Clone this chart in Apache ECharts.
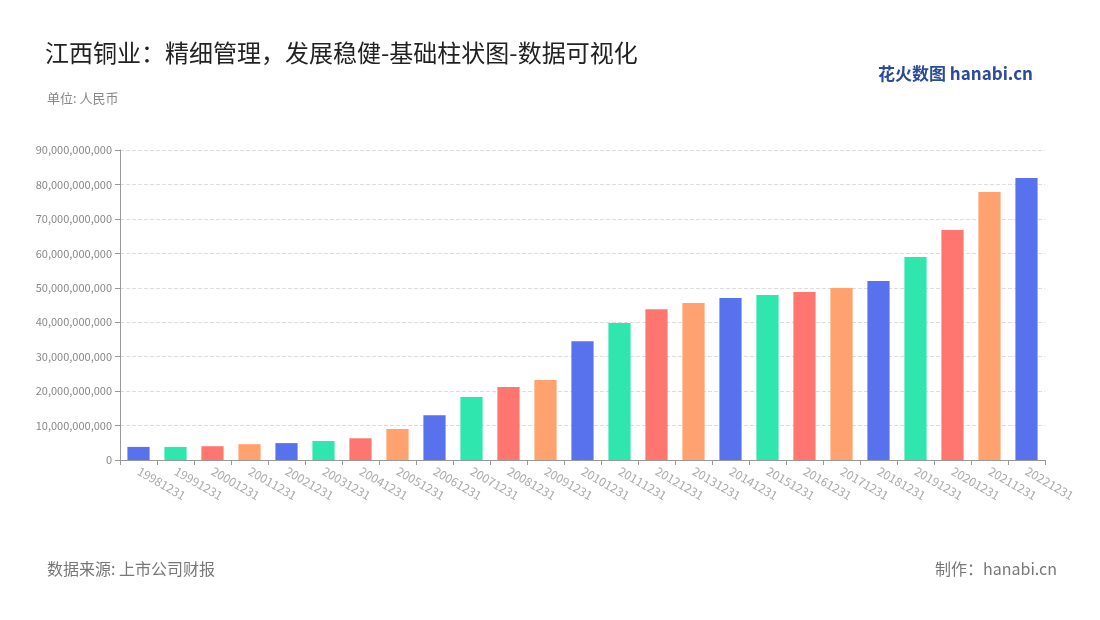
<!DOCTYPE html>
<html>
<head>
<meta charset="utf-8">
<script src="https://cdn.jsdelivr.net/npm/echarts@6/dist/echarts.min.js"></script>
<style>
html, body { margin: 0; padding: 0; background: #fff; }
#main { width: 1100px; height: 620px; }
</style>
</head>
<body>
<div id="main"></div>
<script>
var years = ['19981231', '19991231', '20001231', '20011231', '20021231', '20031231', '20041231', '20051231',
    '20061231', '20071231', '20081231', '20091231', '20101231', '20111231', '20121231', '20131231',
    '20141231', '20151231', '20161231', '20171231', '20181231', '20191231', '20201231', '20211231', '20221231'];
// 单位：十亿元
var valuesB = [3.8, 3.8, 4.0, 4.6, 4.9, 5.5, 6.3, 9.0, 13.0, 18.3, 21.2, 23.2, 34.5, 39.8, 43.8, 45.6,
    47.0, 47.9, 48.8, 49.9, 52.0, 58.9, 66.8, 77.8, 81.9];
var palette = ['#5872ee', '#2ee6ae', '#ff7670', '#ffa26f'];

var chart = echarts.init(document.getElementById('main'));
var font = '"Noto Sans CJK SC", "Noto Sans", sans-serif';
chart.setOption({
    textStyle: { fontFamily: font },
    title: [
        { text: '江西铜业：精细管理，发展稳健-基础柱状图-数据可视化', left: 40, top: 36,
          textStyle: { fontSize: 24, fontWeight: 'normal', color: '#222', fontFamily: font } },
        { text: '单位: 人民币', left: 42, top: 87, textStyle: { fontSize: 13, fontWeight: 'normal', color: '#888', fontFamily: font } },
        { text: '数据来源: 上市公司财报', left: 42, top: 556, textStyle: { fontSize: 16, fontWeight: 'normal', color: '#777', fontFamily: font } },
        { text: '制作：hanabi.cn', right: 38, top: 556, textStyle: { fontSize: 16, fontWeight: 'normal', color: '#777', fontFamily: font } },
        { text: '花火数图 hanabi.cn', right: 62, top: 60, textStyle: { fontSize: 17, fontWeight: 'bold', color: '#2a4a9a', fontFamily: font } }
    ],
    grid: { left: 120, right: 55, top: 150, bottom: 160 },
    xAxis: {
        type: 'category',
        data: years,
        axisLine: { lineStyle: { color: '#999' } },
        axisTick: { show: true, lineStyle: { color: '#999' } },
        axisLabel: { rotate: -30, interval: 0, color: '#aaa', fontSize: 12, margin: 10 }
    },
    yAxis: {
        type: 'value',
        min: 0, max: 90000000000, interval: 10000000000,
        axisLabel: { color: '#888', fontSize: 11, formatter: function (v) { return v.toLocaleString('en-US'); } },
        axisLine: { show: true, lineStyle: { color: '#999' } },
        axisTick: { show: true, lineStyle: { color: '#999' } },
        splitLine: { lineStyle: { type: 'dashed', color: '#ddd' } }
    },
    series: [{
        type: 'bar',
        barWidth: '60%',
        data: valuesB.map(function (v, i) {
            return { value: Math.round(v * 1e9), itemStyle: { color: palette[i % 4] } };
        })
    }]
});
</script>
</body>
</html>
